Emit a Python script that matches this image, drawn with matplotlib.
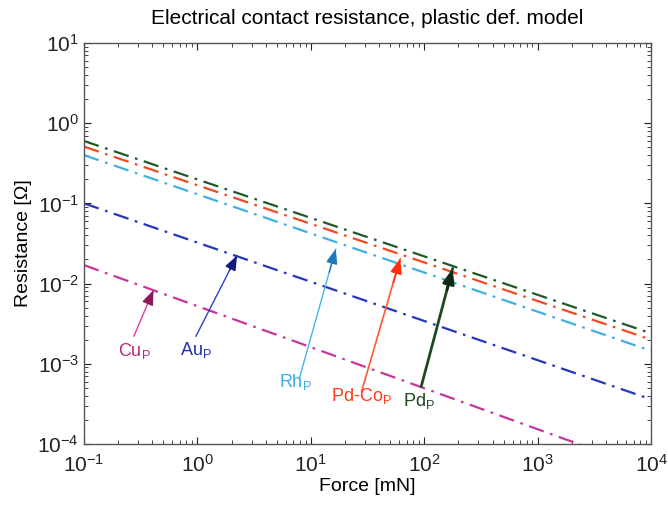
import numpy as np
import matplotlib
matplotlib.use("Agg")
import matplotlib.pyplot as plt

plt.rcParams['font.family'] = ['Liberation Sans', 'DejaVu Sans']
plt.rcParams['mathtext.fontset'] = 'custom'
plt.rcParams['mathtext.rm'] = 'Liberation Sans'
plt.rcParams['mathtext.it'] = 'Liberation Sans:italic'

# force range [mN] and resistance [ohm] read at the two ends
force = np.array([0.1, 1e4])
r_pd = np.array([0.60, 2.4e-3])
r_pdco = np.array([0.51, 2.0e-3])
r_rh = np.array([0.40, 1.45e-3])
r_au = np.array([0.10, 3.6e-4])
r_cu = np.array([0.017, 4.7e-5])

names = ['Pd', 'Pd-Co', 'Rh', 'Au', 'Cu']
series = [r_pd, r_pdco, r_rh, r_au, r_cu]
line_colors = ['#1d5a2a', '#f04a22', '#3fb0e2', '#2435c0', '#c8359a']

fig = plt.figure(figsize=(6.68, 5.08), dpi=100)
ax = fig.add_axes([0.1257, 0.126, 0.849, 0.7894])

for r, c in zip(series, line_colors):
    ax.plot(force, r, color=c, lw=1.6, dashes=(7, 3, 1.2, 3))

ax.set_xscale('log')
ax.set_yscale('log')
ax.set_xlim(1e-1, 1e4)
ax.set_ylim(1e-4, 1e1)

# annotations: (label, tip, tail, text pos, text color, shaft color, head color, lw)
notes = [
    (r'Cu$_\mathrm{P}$', (0.41, 8.3e-3), (0.275, 2.2e-3), (0.28, 1.45e-3),
     '#c0267a', '#d8409a', '#8a1a5a', 1.0),
    (r'Au$_\mathrm{P}$', (2.24, 0.0224), (0.97, 2.2e-3), (0.97, 1.5e-3),
     '#2030b0', '#3040c8', '#101a80', 1.0),
    (r'Rh$_\mathrm{P}$', (16.6, 0.027), (7.9, 6.5e-4), (7.3, 5.9e-4),
     '#3aaee0', '#40b8ea', '#1f78b8', 1.0),
    (r'Pd-Co$_\mathrm{P}$', (61.5, 0.0205), (28, 4.5e-4), (28, 4.0e-4),
     '#ff3a1a', '#ff5a30', '#ff2a10', 1.2),
    (r'Pd$_\mathrm{P}$', (178, 0.0154), (94, 5.2e-4), (90, 3.4e-4),
     '#1d4a20', '#1d4a20', '#0f2a12', 2.0),
]
for label, tip, tail, tpos, tc, sc, hc, lw in notes:
    ax.annotate('', xy=tip, xytext=tail,
                arrowprops=dict(arrowstyle='-', color=sc, lw=lw,
                                shrinkA=0, shrinkB=0))
    # head
    t = np.log10(tip)
    a = np.log10(tail)
    back = 10 ** (t - (t - a) * 0.18)
    ax.annotate('', xy=tip, xytext=tuple(back),
                arrowprops=dict(arrowstyle='-|>,head_length=0.9,head_width=0.35',
                                color=hc, lw=lw, shrinkA=0, shrinkB=0))
    ax.text(tpos[0], tpos[1], label, color=tc, fontsize=13,
            ha='center', va='center')

ax.tick_params(which='both', direction='in', top=True, right=True,
               labelsize=15, colors='#222222')
ax.tick_params(which='major', length=5)
ax.tick_params(which='minor', length=3)
ax.tick_params(axis='x', pad=7)
for s in ax.spines.values():
    s.set_color('#555555')
    s.set_linewidth(1.0)

ax.set_xlabel('Force [mN]', fontsize=14, labelpad=2)
ax.set_ylabel('Resistance [\u03a9]', fontsize=14, labelpad=4)
ax.set_title('Electrical contact resistance, plastic def. model', fontsize=15, pad=14)

fig.savefig('out.png', dpi=100)
